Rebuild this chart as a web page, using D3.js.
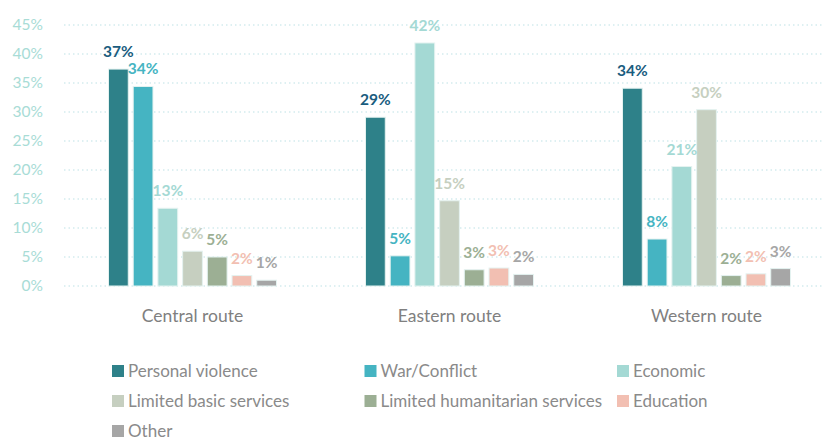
<!DOCTYPE html>
<html>
<head>
<meta charset="utf-8">
<script src="https://cdn.jsdelivr.net/npm/d3@7"></script>
<style>
  body { margin: 0; background: #fff; }
  svg { font-family: "Lato", "Open Sans", sans-serif; }
</style>
</head>
<body>
<div id="chart"></div>
<script>
// Data
const routes = ["Central route", "Eastern route", "Western route"];
const reasons = ["Personal violence", "War/Conflict", "Economic", "Limited basic services",
  "Limited humanitarian services", "Education", "Other"];
const personalViolence = [37.4, 29.1, 34.1];
const warConflict = [34.4, 5.2, 8.1];
const economic = [13.4, 41.9, 20.6];
const limitedBasic = [6.0, 14.7, 30.4];
const limitedHumanitarian = [5.0, 2.8, 1.8];
const education = [1.8, 3.1, 2.1];
const other = [1.0, 2.0, 3.0];
const yTicks = [0, 5, 10, 15, 20, 25, 30, 35, 40, 45];

const seriesValues = [personalViolence, warConflict, economic, limitedBasic,
  limitedHumanitarian, education, other];
const barColors = ["#2e8189", "#45b4c2", "#a4d9d4", "#c6cfc0", "#9caf94", "#f2bfb2", "#a6a6a6"];
const labelColors = ["#1a5c7e", "#45b4c2", "#a4d9d4", "#c6cfc0", "#9caf94", "#f2bfb2", "#a6a6a6"];

const rows = [];
routes.forEach((r, i) => {
  reasons.forEach((s, j) => rows.push({ route: r, reason: s, idx: j, value: seriesValues[j][i] }));
});

// Dimensions
const width = 824;
const height = 440;
const plotTop = 25, plotBottom = 286, plotLeft = 64;

const svg = d3.select("#chart")
  .append("svg")
    .attr("width", width)
    .attr("height", height);

const y = d3.scaleLinear().domain([0, 45]).range([plotBottom, plotTop]);
const x0 = d3.scaleBand().domain(routes).range([plotLeft, plotLeft + 3 * 257]);
const x1 = d3.scaleBand().domain(reasons).range([0, 7 * 24]).paddingInner(0.2);
const groupOffset = (x0.bandwidth() - x1.range()[1]) / 2;

// Gridlines
svg.append("g")
  .selectAll("line")
  .data(yTicks)
  .join("line")
    .attr("x1", plotLeft)
    .attr("x2", 822)
    .attr("y1", d => y(d))
    .attr("y2", d => y(d))
    .attr("stroke", "#d4ecee")
    .attr("stroke-width", 1.5)
    .attr("stroke-dasharray", "1.5 3");

// Y tick labels
svg.append("g")
  .selectAll("text")
  .data(yTicks)
  .join("text")
    .attr("x", 43)
    .attr("y", d => y(d))
    .attr("dy", "0.35em")
    .attr("text-anchor", "end")
    .attr("fill", "#a8dcd6")
    .attr("font-size", 15.5)
    .text(d => d + "%");

// Bars
const groups = svg.append("g")
  .selectAll("g")
  .data(routes)
  .join("g")
    .attr("transform", d => `translate(${x0(d) + groupOffset},0)`);

groups.selectAll("rect")
  .data(r => rows.filter(d => d.route === r))
  .join("rect")
    .attr("x", d => x1(d.reason))
    .attr("y", d => y(d.value))
    .attr("width", x1.bandwidth())
    .attr("height", d => y(0) - y(d.value))
    .attr("fill", d => barColors[d.idx])
    .attr("stroke", "#e4f2f0")
    .attr("stroke-width", 1);

groups.selectAll("text")
  .data(r => rows.filter(d => d.route === r))
  .join("text")
    .attr("x", d => x1(d.reason) + x1.bandwidth() / 2)
    .attr("y", d => y(d.value) - 12)
    .attr("text-anchor", "middle")
    .attr("fill", d => labelColors[d.idx])
    .attr("font-size", 15.5)
    .attr("font-weight", "bold")
    .text(d => Math.round(d.value) + "%");

// Category labels
svg.append("g")
  .selectAll("text")
  .data(routes)
  .join("text")
    .attr("x", d => x0(d) + x0.bandwidth() / 2)
    .attr("y", 322)
    .attr("text-anchor", "middle")
    .attr("fill", "#808080")
    .attr("font-size", 17.5)
    .text(d => d);

// Legend
const legend = svg.append("g")
  .selectAll("g")
  .data(reasons)
  .join("g")
    .attr("transform", (d, i) => `translate(${112 + (i % 3) * 252.5},${371 + Math.floor(i / 3) * 30})`);
legend.append("rect")
  .attr("x", 0)
  .attr("y", -6)
  .attr("width", 12)
  .attr("height", 12)
  .attr("fill", (d, i) => barColors[i]);
legend.append("text")
  .attr("x", 16)
  .attr("y", 0)
  .attr("dy", "0.35em")
  .attr("fill", "#8a8a8a")
  .attr("font-size", 17)
  .text(d => d);
</script>
</body>
</html>
